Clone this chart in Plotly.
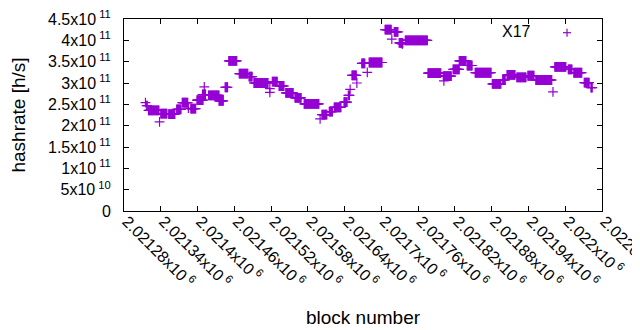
import plotly.graph_objects as go

# Plateaus of the hashrate estimate: first block, last block, value (x1e11 h/s)
seg_start = [2021315, 2021317, 2021320, 2021340, 2021338, 2021353, 2021366, 2021375, 2021385,
             2021389, 2021399, 2021411, 2021408, 2021418, 2021435, 2021445, 2021451, 2021468,
             2021484, 2021492, 2021518, 2021518, 2021522, 2021533, 2021544, 2021559, 2021574,
             2021600, 2021603, 2021615, 2021623, 2021639, 2021646, 2021649, 2021652, 2021660,
             2021668, 2021677, 2021680, 2021706, 2021721, 2021717, 2021734, 2021729, 2021739,
             2021776, 2021801, 2021802, 2021817, 2021827, 2021840, 2021853, 2021881, 2021898,
             2021905, 2021921, 2021939, 2021952, 2021980, 2021983, 2022005, 2022014, 2022031,
             2022042]
seg_end = [2021315, 2021318, 2021337, 2021350, 2021338, 2021363, 2021373, 2021384, 2021385,
           2021397, 2021409, 2021411, 2021413, 2021435, 2021442, 2021449, 2021464, 2021482,
           2021489, 2021515, 2021518, 2021518, 2021530, 2021541, 2021556, 2021569, 2021598,
           2021600, 2021611, 2021620, 2021634, 2021644, 2021648, 2021649, 2021659, 2021660,
           2021673, 2021677, 2021701, 2021716, 2021727, 2021717, 2021734, 2021735, 2021775,
           2021797, 2021814, 2021802, 2021827, 2021838, 2021848, 2021879, 2021895, 2021902,
           2021918, 2021936, 2021949, 2021978, 2021980, 2022001, 2022011, 2022027, 2022039,
           2022044]
seg_value = [2.54, 2.47, 2.36, 2.28, 2.09, 2.27, 2.38, 2.54, 2.41,
             2.40, 2.60, 2.91, 2.73, 2.71, 2.58, 2.90, 3.52, 3.22,
             3.15, 3.00, 2.87, 2.78, 3.03, 2.93, 2.77, 2.65, 2.51,
             2.16, 2.26, 2.33, 2.43, 2.55, 2.71, 2.85, 3.18, 3.00,
             3.46, 3.25, 3.48, 4.25, 4.20, 4.03, 3.91, 3.94, 4.00,
             3.23, 3.16, 3.05, 3.32, 3.52, 3.41, 3.24, 2.98, 3.07,
             3.19, 3.13, 3.17, 3.07, 2.79, 3.38, 3.32, 3.24, 3.01,
             2.89]

x_tick_vals = [2021280, 2021340, 2021400, 2021460, 2021520, 2021580, 2021640,
               2021700, 2021760, 2021820, 2021880, 2021940, 2022000, 2022060]
x_tick_mant = ["2.02128", "2.02134", "2.0214", "2.02146", "2.02152", "2.02158", "2.02164",
               "2.0217", "2.02176", "2.02182", "2.02188", "2.02194", "2.022", "2.02206"]
y_tick_vals = [0, 5e10, 1e11, 1.5e11, 2e11, 2.5e11, 3e11, 3.5e11, 4e11, 4.5e11]
y_tick_mant = ["0", "5", "1", "1.5", "2", "2.5", "3", "3.5", "4", "4.5"]
y_tick_exp = [None, "10", "11", "11", "11", "11", "11", "11", "11", "11"]

blocks, rates = [], []
for s, e, v in zip(seg_start, seg_end, seg_value):
    for b in range(s, e + 1):
        blocks.append(b)
        rates.append(v * 1e11)

x_tick_text = [m + "x10<sup> 6</sup>" for m in x_tick_mant]
y_tick_text = [m if ex is None else m + "x10<sup> " + ex + "</sup>" for m, ex in zip(y_tick_mant, y_tick_exp)]

purple = "#9400d3"
fig = go.Figure()
fig.add_trace(go.Scatter(
    x=blocks, y=rates, mode="markers", name="X17", showlegend=False,
    marker=dict(symbol="cross-thin", size=7, color=purple,
                line=dict(color=purple, width=1.2)),
))

# the page body adds an 8 px offset; margins compensate so the plot area
# lands where the reference has it (x 124..602, y 19..211)
OFF = 8
W, H = 640, 330
L, R, T, B = 124 - OFF, 38 + OFF, 19 - OFF, 119 + OFF
pw, ph = W - L - R, H - T - B


def px(x):
    return (x - OFF - L) / pw


def py(y):
    return (H - B - (y - OFF)) / ph


axis_common = dict(showline=True, linecolor="black", linewidth=1, mirror="ticks",
                   ticks="inside", ticklen=5, tickcolor="black", showgrid=False,
                   zeroline=False, ticklabeloverflow="allow")

fig.update_layout(
    width=W, height=H, margin=dict(l=L, r=R, t=T, b=B, autoexpand=False),
    paper_bgcolor="white", plot_bgcolor="white",
    font=dict(family="Liberation Sans, Arial, sans-serif", size=16, color="black"),
    xaxis=dict(range=[2021280, 2022060], tickmode="array", tickvals=x_tick_vals,
               ticktext=x_tick_text, tickangle=45, automargin=False,
               ticklabelstandoff=-6, ticklabelshift=3,
               title=dict(text="block number", standoff=20), **axis_common),
    yaxis=dict(range=[0, 4.5e11], tickmode="array", tickvals=y_tick_vals,
               ticktext=y_tick_text, automargin=False, ticklabelstandoff=9,
               title=dict(text="hashrate [h/s]", standoff=22), **axis_common),
    annotations=[dict(text="X17", xref="paper", yref="paper", x=px(533), y=py(31.5),
                      xanchor="right", yanchor="middle", showarrow=False,
                      font=dict(size=16))],
    shapes=[
        dict(type="line", xref="paper", yref="paper", x0=px(563), x1=px(571),
             y0=py(32.7), y1=py(32.7), line=dict(color=purple, width=1.2)),
        dict(type="line", xref="paper", yref="paper", x0=px(567), x1=px(567),
             y0=py(28.7), y1=py(36.7), line=dict(color=purple, width=1.2)),
    ],
)

fig.write_html("out.html")
